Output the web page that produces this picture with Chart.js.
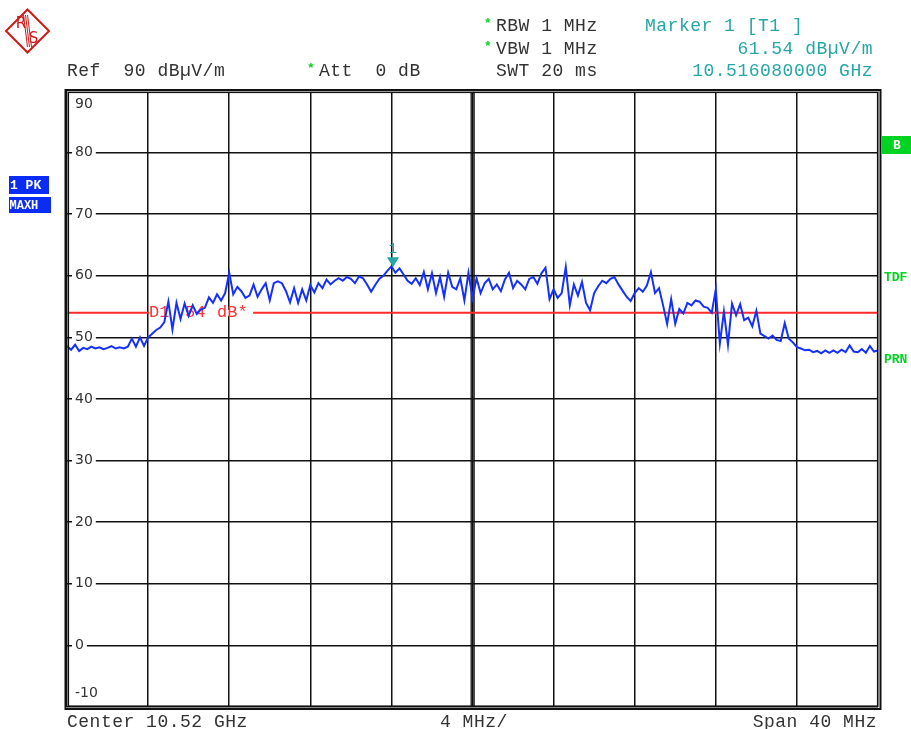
<!DOCTYPE html>
<html>
<head>
<meta charset="utf-8">
<script src="https://cdn.jsdelivr.net/npm/chart.js@4.4.1/dist/chart.umd.min.js"></script>
<style>
  html, body { margin: 0; padding: 0; background: #fff; }
  canvas { display: block; }
</style>
</head>
<body>
<canvas id="spec" width="911" height="729"></canvas>
<script>
// sweep: center 10.52 GHz, span 40 MHz, one reading every 0.2 MHz
var centerGHz = 10.52;
var spanMHz = 40;
var stepMHz = 0.2;
var yTicks = [90, 80, 70, 60, 50, 40, 30, 20, 10, 0, -10];

// max hold trace, dBuV/m
var level = [
  48.6, 48.0, 48.8, 47.8, 48.3, 48.1, 48.5, 48.2, 48.4, 48.1,
  48.3, 48.6, 48.2, 48.4, 48.2, 48.5, 49.8, 48.5, 50.0, 48.6,
  50.0, 50.6, 51.2, 51.6, 52.5, 55.8, 51.3, 55.6, 53.0, 55.5,
  53.5, 55.2, 53.8, 54.5, 54.8, 56.5, 55.6, 57.0, 56.0, 57.2,
  60.5, 57.0, 58.2, 57.5, 56.4, 56.8, 58.6, 56.6, 57.8, 58.8,
  56.0, 58.8, 59.1, 58.8, 57.5, 55.7, 58.0, 55.6, 57.8, 56.0,
  58.5, 57.3, 58.8, 58.0, 59.4, 58.6, 59.2, 59.6, 59.2, 59.8,
  59.5, 58.8, 59.9, 59.6, 58.6, 57.4, 58.5, 59.5, 60.0, 60.8,
  61.54, 60.5, 61.2, 60.2, 59.2, 58.7, 59.6, 58.5, 60.6, 57.8,
  60.4, 57.2, 59.8, 56.6, 60.5, 58.2, 57.8, 59.6, 56.0, 60.5,
  56.4, 59.6, 57.2, 58.8, 59.5, 57.8, 58.6, 57.5, 59.4, 60.5,
  58.0, 59.2, 58.6, 57.8, 59.5, 59.8, 58.7, 60.4, 61.3, 56.2,
  57.8, 56.4, 57.2, 61.4, 55.2, 58.6, 56.8, 59.0, 55.6, 54.4,
  57.2, 58.3, 59.2, 58.8, 59.5, 59.8, 58.6, 57.6, 56.6, 55.9,
  57.2, 58.0, 57.4, 58.4, 60.6, 57.2, 58.0, 55.2, 52.2, 56.2,
  52.2, 54.6, 53.9, 55.6, 55.2, 56.0, 55.8, 55.0, 54.8, 54.0,
  57.8, 49.0, 54.2, 48.8, 55.5, 53.6, 55.4, 52.8, 53.2, 51.8,
  54.3, 50.6, 50.2, 49.8, 50.3, 49.6, 49.4, 52.3, 49.8, 49.2,
  48.4, 48.2, 47.9, 48.0, 47.6, 47.8, 47.4, 47.9, 47.5, 47.9,
  47.5, 48.0, 47.6, 48.7, 47.7, 47.6, 48.1, 47.5, 48.6, 47.7, 47.9
];

var displayLine = 54;          // D1
var markerGHz = 10.51608;      // marker 1
var markerLevel = 61.54;

var mono = '"Liberation Mono", "Courier New", monospace';
var traceBlue = '#1430ff';
var teal = '#26a6a6';
var green = '#00d321';

var pts = [];
for (var i = 0; i < level.length; i++) {
  pts.push({ x: -spanMHz / 2 + i * stepMHz, y: level[i] });
}
var dlPts = [{ x: -spanMHz / 2, y: displayLine }, { x: spanMHz / 2, y: displayLine }];

function txt(ctx, s, x, y, color, font, align) {
  ctx.font = font || ('18px ' + mono);
  ctx.fillStyle = color || '#333';
  ctx.textAlign = align || 'left';
  ctx.textBaseline = 'alphabetic';
  ctx.fillText(s, x, y);
}

function star(ctx, x, y) {
  ctx.font = 'bold 13px ' + mono;
  ctx.fillStyle = green;
  ctx.textAlign = 'left';
  ctx.fillText('*', x, y);
}

var screenPlugin = {
  id: 'screen',
  beforeDraw: function (chart) {
    var ctx = chart.ctx;
    ctx.save();
    ctx.fillStyle = '#fff';
    ctx.fillRect(0, 0, chart.width, chart.height);
    ctx.restore();
  },
  beforeDatasetsDraw: function (chart) {
    var ctx = chart.ctx, ys = chart.scales.y, xs = chart.scales.x, a = chart.chartArea;
    ctx.save();
    // double centre line
    var cx = xs.getPixelForValue(0);
    ctx.strokeStyle = '#111';
    ctx.lineWidth = 1.3;
    ctx.beginPath();
    ctx.moveTo(cx - 1.3, a.top); ctx.lineTo(cx - 1.3, a.bottom);
    ctx.moveTo(cx + 1.6, a.top); ctx.lineTo(cx + 1.6, a.bottom);
    ctx.stroke();
    // level labels sitting on the grid lines
    ctx.font = '14px "DejaVu Sans", sans-serif';
    ctx.textBaseline = 'middle';
    ctx.textAlign = 'left';
    yTicks.forEach(function (v) {
      var py = ys.getPixelForValue(v);
      var ly = py;
      if (v === 90) ly = py + 13;
      if (v === -10) ly = py - 14;
      var s = String(v);
      var w = ctx.measureText(s).width;
      if (v !== 90 && v !== -10) {
        ctx.fillStyle = '#fff';
        ctx.fillRect(a.left + 5, py - 3, w + 6, 6);
      }
      ctx.fillStyle = '#333';
      ctx.fillText(s, a.left + 8, ly);
    });
    ctx.restore();
  },
  afterDatasetDraw: function (chart, args) {
    if (args.index !== 1) return;
    var ctx = chart.ctx, ys = chart.scales.y, xs = chart.scales.x;
    var py = ys.getPixelForValue(displayLine);
    var x0 = xs.getPixelForValue(-16);
    ctx.save();
    ctx.fillStyle = '#fff';
    ctx.fillRect(x0 + 1, py - 3, 104, 6);
    ctx.font = '17px ' + mono;
    ctx.fillStyle = '#ff3030';
    ctx.textBaseline = 'middle';
    ctx.textAlign = 'left';
    ctx.fillText('D1', x0 + 1, py);
    ctx.fillText('54', x0 + 37, py);
    ctx.fillText('dB*', x0 + 69, py);
    ctx.restore();
  },
  afterDatasetsDraw: function (chart) {
    var ctx = chart.ctx, ys = chart.scales.y, xs = chart.scales.x, a = chart.chartArea;
    ctx.save();
    // marker 1
    var mx = xs.getPixelForValue((markerGHz - centerGHz) * 1000);
    var my = ys.getPixelForValue(markerLevel);
    ctx.fillStyle = teal;
    ctx.beginPath();
    ctx.moveTo(mx - 6, my - 9);
    ctx.lineTo(mx + 6, my - 9);
    ctx.lineTo(mx, my + 1);
    ctx.closePath();
    ctx.fill();
    ctx.font = '14px ' + mono;
    ctx.textAlign = 'center';
    ctx.fillText('1', mx, my - 13);
    // frame
    ctx.strokeStyle = '#111';
    ctx.lineWidth = 2;
    ctx.strokeRect(a.left - 1.5, a.top - 1, a.right - a.left + 4, a.bottom - a.top + 3);
    ctx.lineWidth = 1.2;
    ctx.strokeRect(a.left + 1.5, a.top + 1.5, a.right - a.left - 2, a.bottom - a.top - 2.5);
    ctx.strokeStyle = '#999';
    ctx.lineWidth = 1;
    ctx.beginPath();
    ctx.moveTo(a.left, a.top + 0.5); ctx.lineTo(a.right + 2, a.top + 0.5);
    ctx.stroke();
    ctx.restore();
  },
  afterDraw: function (chart) {
    var ctx = chart.ctx;
    ctx.save();
    ctx.letterSpacing = '0.5px';
    // header
    txt(ctx, 'Ref  90 dB\u00b5V/m', 67, 76);
    star(ctx, 307, 72);
    txt(ctx, 'Att  0 dB', 319, 76);
    star(ctx, 484, 27);
    txt(ctx, 'RBW 1 MHz', 496, 31);
    star(ctx, 484, 50);
    txt(ctx, 'VBW 1 MHz', 496, 54);
    txt(ctx, 'SWT 20 ms', 496, 76);
    txt(ctx, 'Marker 1 [T1 ]', 645, 31, teal);
    txt(ctx, markerLevel.toFixed(2) + ' dB\u00b5V/m', 873, 54, teal, null, 'right');
    txt(ctx, markerGHz.toFixed(9) + ' GHz', 873, 76, teal, null, 'right');
    // footer
    txt(ctx, 'Center ' + centerGHz + ' GHz', 67, 727);
    txt(ctx, (spanMHz / 10) + ' MHz/', 440, 727);
    txt(ctx, 'Span ' + spanMHz + ' MHz', 877, 727, null, null, 'right');
    ctx.letterSpacing = '0px';

    // trace info boxes
    ctx.fillStyle = '#0a2cf5';
    ctx.fillRect(9, 176, 40, 18);
    ctx.fillRect(9, 197, 42, 16);
    ctx.fillStyle = '#fff';
    ctx.font = 'bold 13px ' + mono;
    ctx.textAlign = 'left';
    ctx.textBaseline = 'middle';
    ctx.fillText('1 PK', 10, 185.5);
    ctx.font = 'bold 12px ' + mono;
    ctx.fillText('MAXH', 9.5, 205.5);

    ctx.fillStyle = green;
    ctx.fillRect(882, 136, 29, 18);
    ctx.fillStyle = '#fff';
    ctx.font = 'bold 13px ' + mono;
    ctx.textAlign = 'center';
    ctx.fillText('B', 897, 145.5);
    ctx.fillStyle = green;
    ctx.textAlign = 'left';
    ctx.fillText('TDF', 884, 277.5);
    ctx.fillText('PRN', 884, 359.5);

    // R&S logo
    var lx = 27.5, ly = 31, r = 21.5;
    ctx.strokeStyle = '#d01818';
    ctx.fillStyle = '#d01818';
    ctx.lineWidth = 2;
    ctx.beginPath();
    ctx.moveTo(lx, ly - r); ctx.lineTo(lx + r, ly); ctx.lineTo(lx, ly + r); ctx.lineTo(lx - r, ly);
    ctx.closePath();
    ctx.stroke();
    ctx.lineWidth = 1;
    ctx.beginPath();
    for (var k = -1; k <= 1; k++) {
      ctx.moveTo(lx - 2 + k * 2, ly - 16);
      ctx.lineTo(lx + 2 + k * 2, ly + 16);
    }
    ctx.stroke();
    ctx.font = '15px "DejaVu Sans", sans-serif';
    ctx.textAlign = 'center';
    ctx.textBaseline = 'middle';
    ctx.fillText('R', lx - 6.5, ly - 7);
    ctx.fillText('S', lx + 6, ly + 8);
    ctx.restore();
  }
};

new Chart(document.getElementById('spec'), {
  type: 'line',
  data: {
    datasets: [{
      data: pts,
      borderColor: traceBlue,
      borderWidth: 2,
      pointRadius: 0,
      tension: 0,
      fill: false
    }, {
      data: dlPts,
      borderColor: '#ff2a2a',
      borderWidth: 2,
      pointRadius: 0,
      fill: false
    }]
  },
  options: {
    responsive: false,
    animation: false,
    devicePixelRatio: 1,
    layout: { padding: { left: 67, right: 33, top: 91, bottom: 22 } },
    plugins: { legend: { display: false }, tooltip: { enabled: false } },
    scales: {
      x: {
        type: 'linear',
        min: -spanMHz / 2,
        max: spanMHz / 2,
        ticks: { display: false, stepSize: spanMHz / 10 },
        grid: { color: '#111', lineWidth: 1.5, drawTicks: false },
        border: { display: false }
      },
      y: {
        min: -10,
        max: 90,
        ticks: { display: false, stepSize: 10 },
        grid: { color: '#111', lineWidth: 1.5, drawTicks: false },
        border: { display: false }
      }
    }
  },
  plugins: [screenPlugin]
});
</script>
</body>
</html>
